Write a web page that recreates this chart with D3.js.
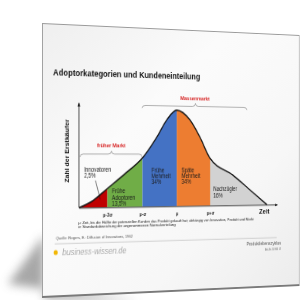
<!DOCTYPE html>
<html>
<head>
<meta charset="utf-8">
<script src="https://cdn.jsdelivr.net/npm/d3@7"></script>
<style>
  html, body { margin: 0; padding: 0; background: #fff; width: 300px; height: 300px; overflow: hidden; }
  #stage { position: relative; width: 300px; height: 300px; }
  #shadow { position: absolute; left: 0; top: 0; }
  #page {
    position: absolute; left: 0; top: 0; width: 332px; height: 275px;
    transform-origin: 0 0;
    /* page seen in perspective: left edge x=42 (y 23..298), right edge x=299 (y 35..286) */
    transform: matrix3d(0.86213, 0.04635, 0, 0.0002888, 0, 1, 0, 0, 0, 0, 1, 0, 42, 23, 0, 1);
  }
  text { font-family: "Liberation Sans", Arial, sans-serif; }
</style>
</head>
<body>
<div id="stage">
  <svg id="shadow" width="300" height="300"></svg>
  <div id="page"></div>
</div>
<script>
// ---- data ----
// bell curve, x in sigma units around mu, height in % of the peak
const curveSigma  = [-2.79, -2.4, -2.0, -1.5, -0.98, -0.58, -0.29, 0, 0.39, 0.69, 0.99, 1.69, 2.22, 2.75];
const curveHeight = [0, 7, 19, 34, 51, 72, 90, 100, 90, 72, 50, 32, 16, 0];

const segmentNames  = [['Innovatoren'], ['Frühe', 'Adoptoren'], ['Frühe', 'Mehrheit'], ['Späte', 'Mehrheit'], ['Nachzügler']];
const segmentShares = ['2,5%', '13,5%', '34%', '34%', '16%'];
const segmentStart  = [-2.79, -2, -1, 0, 1];
const segmentEnd    = [-2, -1, 0, 1, 2.75];
const segmentColors = ['#c00000', '#70ad47', '#4472c4', '#ed7d31', '#d2d2d2'];

const tickValues = [-2, -1, 0, 1];
const tickLabels = ['µ-2σ', 'µ-σ', 'µ', 'µ+σ'];

const markets = ['früher Markt', 'Massenmarkt'];
const marketFrom = [-2.76, -1.01];
const marketTo   = [-1.01, 2.12];

const footnotes = [
  'µ: Zeit, bis die Hälfte der potenziellen Kunden das Produkt gekauft hat; abhängig von Innovation, Produkt und Markt',
  'σ: Standardabweichung der angenommenen Normalverteilung'
];

// ---- layout (flat page units, before the perspective) ----
const pageW = 332, pageH = 275;
// label anchors: [sigma, height] of first baseline
const labelPos = [[-2.65, 36.2], [-1.87, 13.9], [-0.74, 35.5], [0.14, 35.3], [1.09, 14.8]];
const lineStep = 6.2;
const marketLabelPos = [[-1.886, 61], [0.543, 111]];
const braceLevels = [[51.1, 54.1, 57.2], [101.6, 104.3, 107.3]];

// ---- shadow behind the sheet (screen space) ----
const sh = d3.select('#shadow');
sh.append('defs').append('filter').attr('id', 'blur')
  .attr('x', '-50%').attr('y', '-50%').attr('width', '200%').attr('height', '200%')
  .append('feGaussianBlur').attr('stdDeviation', 5);
sh.append('polygon')
  .attr('points', '44,235 44,299 140,301 8,284')
  .attr('fill', '#8a8a8a').attr('opacity', 0.75)
  .attr('filter', 'url(#blur)');

// ---- sheet ----
const svg = d3.select('#page').append('svg')
  .attr('width', pageW).attr('height', pageH);

const defs = svg.append('defs');
const grad = defs.append('linearGradient').attr('id', 'paper')
  .attr('x1', 0).attr('y1', 0).attr('x2', 1).attr('y2', 1);
grad.append('stop').attr('offset', 0).attr('stop-color', '#efefef');
grad.append('stop').attr('offset', 0.35).attr('stop-color', '#fbfbfb');
grad.append('stop').attr('offset', 0.7).attr('stop-color', '#f7f7f7');
grad.append('stop').attr('offset', 1).attr('stop-color', '#ececec');

defs.append('marker').attr('id', 'arrow')
  .attr('viewBox', '0 0 10 10').attr('refX', 9).attr('refY', 5)
  .attr('markerWidth', 5).attr('markerHeight', 5).attr('orient', 'auto')
  .append('path').attr('d', 'M0,1L10,5L0,9Z').attr('fill', '#111');

svg.append('rect')
  .attr('x', 0.5).attr('y', 0.5).attr('width', pageW - 1).attr('height', pageH - 1.5)
  .attr('fill', 'url(#paper)').attr('stroke', '#9a9a9a').attr('stroke-width', 1);
svg.append('line')
  .attr('x1', 0).attr('x2', pageW).attr('y1', pageH - 1).attr('y2', pageH - 1)
  .attr('stroke', '#7a7a7a').attr('stroke-width', 2);

// title
svg.append('text')
  .attr('x', 13).attr('y', 52.5)
  .attr('font-size', 9.3).attr('font-weight', 'bold').attr('fill', '#111')
  .text('Adoptorkategorien und Kundeneinteilung');

// ---- chart ----
const xScale = d3.scaleLinear().domain([-2.79, 3.07]).range([44.0, 300.6]);
const yScale = d3.scaleLinear().domain([0, 100]).range([185.3, 84.8]);

const pts = curveSigma.map((s, i) => [s, curveHeight[i]]);
const area = d3.area()
  .x(d => xScale(d[0])).y0(yScale(0)).y1(d => yScale(d[1]))
  .curve(d3.curveMonotoneX);
const line = d3.line()
  .x(d => xScale(d[0])).y(d => yScale(d[1]))
  .curve(d3.curveMonotoneX);

const chart = svg.append('g');

segmentColors.forEach((c, i) => {
  defs.append('clipPath').attr('id', 'seg' + i)
    .append('rect')
    .attr('x', xScale(segmentStart[i])).attr('y', 0)
    .attr('width', xScale(segmentEnd[i]) - xScale(segmentStart[i]))
    .attr('height', pageH);
  chart.append('path')
    .attr('d', area(pts))
    .attr('fill', c)
    .attr('clip-path', `url(#seg${i})`);
});

chart.append('path')
  .attr('d', line(pts))
  .attr('fill', 'none').attr('stroke', '#111').attr('stroke-width', 1.4);

// x axis with arrow
const xAxis = chart.append('g')
  .attr('transform', `translate(0,${yScale(0)})`)
  .call(d3.axisBottom(xScale).tickValues(tickValues)
    .tickFormat((d, i) => tickLabels[i]).tickSize(0).tickPadding(6.1));
xAxis.select('.domain').attr('stroke', '#111').attr('stroke-width', 0.8)
  .attr('marker-end', 'url(#arrow)');
xAxis.selectAll('text')
  .attr('font-size', 5.5).attr('font-weight', 'bold').attr('fill', '#222')
  .attr('font-family', '"Liberation Sans", Arial, sans-serif');

chart.append('text')
  .attr('x', xScale(2.5)).attr('y', yScale(-10))
  .attr('font-size', 8).attr('font-weight', 'bold').attr('fill', '#111')
  .text('Zeit');

// y axis with arrow
chart.append('line')
  .attr('x1', xScale(-2.79)).attr('x2', xScale(-2.79))
  .attr('y1', yScale(0)).attr('y2', yScale(105.5))
  .attr('stroke', '#111').attr('stroke-width', 0.8)
  .attr('marker-end', 'url(#arrow)');

chart.append('text')
  .attr('transform', `translate(${xScale(-3.07)},${yScale(57.1)}) rotate(-90)`)
  .attr('text-anchor', 'middle')
  .attr('font-size', 7).attr('font-weight', 'bold').attr('fill', '#111')
  .text('Zahl der Erstkäufer');

// segment labels
segmentNames.forEach((lines, i) => {
  const t = chart.append('text')
    .attr('font-size', 6.3).attr('fill', '#1a1a1a');
  lines.concat([segmentShares[i]]).forEach((s, j) => {
    t.append('tspan')
      .attr('x', xScale(labelPos[i][0]))
      .attr('y', yScale(labelPos[i][1]) + j * lineStep)
      .text(s);
  });
});

// pointer from "Innovatoren" label into the red slice
chart.append('line')
  .attr('x1', xScale(-2.33)).attr('y1', yScale(27.3))
  .attr('x2', xScale(-2.20)).attr('y2', yScale(8))
  .attr('stroke', '#111').attr('stroke-width', 0.6);

// market braces
function brace(x0, x1, yEnd, yLine, yTip) {
  const xm = (x0 + x1) / 2, r = 4;
  return `M${x0},${yEnd}Q${x0},${yLine} ${x0 + r},${yLine}` +
    `L${xm - r},${yLine}Q${xm},${yLine} ${xm},${yTip}` +
    `Q${xm},${yLine} ${xm + r},${yLine}L${x1 - r},${yLine}` +
    `Q${x1},${yLine} ${x1},${yEnd}`;
}
markets.forEach((m, i) => {
  const [he, hl, ht] = braceLevels[i];
  chart.append('path')
    .attr('d', brace(xScale(marketFrom[i]), xScale(marketTo[i]), yScale(he), yScale(hl), yScale(ht)))
    .attr('fill', 'none').attr('stroke', '#777').attr('stroke-width', 0.6);
  chart.append('text')
    .attr('x', xScale(marketLabelPos[i][0])).attr('y', yScale(marketLabelPos[i][1]))
    .attr('text-anchor', 'middle')
    .attr('font-size', 6).attr('font-weight', 'bold').attr('fill', '#d62020')
    .text(m);
});

// ---- footer ----
footnotes.forEach((f, i) => {
  svg.append('text')
    .attr('x', 43.2).attr('y', 202.3 + i * 3.5)
    .attr('font-size', 4.4).attr('fill', '#222')
    .text(f);
});

svg.append('text')
  .attr('x', 16.5).attr('y', 217.4)
  .attr('font-size', 4.3).attr('fill', '#555')
  .text('Quelle: Rogers, E.: Diffusion of Innovations, 1962');

svg.append('line')
  .attr('x1', 15).attr('x2', 300).attr('y1', 221.3).attr('y2', 221.3)
  .attr('stroke', '#b5b5b5').attr('stroke-width', 0.6);

svg.append('circle')
  .attr('cx', 16.2).attr('cy', 230.1).attr('r', 2.5)
  .attr('fill', '#f2b705');
svg.append('text')
  .attr('x', 24).attr('y', 232.7)
  .attr('font-size', 9).attr('font-style', 'italic').attr('fill', '#a8a8a8')
  .text('business-wissen.de');

svg.append('text')
  .attr('x', 306).attr('y', 229.5).attr('text-anchor', 'end')
  .attr('font-size', 5.2).attr('fill', '#555')
  .text('Produktlebenszyklus');
svg.append('text')
  .attr('x', 306).attr('y', 234.9).attr('text-anchor', 'end')
  .attr('font-size', 2.8).attr('fill', '#666')
  .text('Art.-Nr. 20 963 07');
</script>
</body>
</html>
